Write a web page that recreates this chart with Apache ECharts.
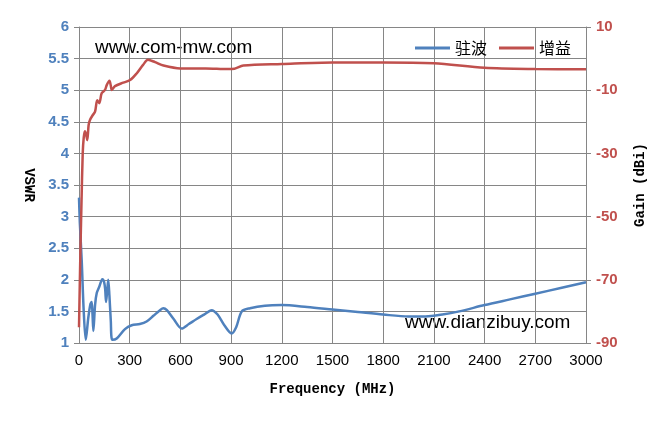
<!DOCTYPE html>
<html>
<head>
<meta charset="utf-8">
<script src="https://cdn.jsdelivr.net/npm/echarts@6/dist/echarts.min.js"></script>
<style>html,body{margin:0;padding:0;background:#fff}#c{width:662px;height:427px}</style>
</head>
<body>
<div id="c"></div>
<script>
var freqVswr = [0,5,16,28,40,55,68,75,80,85,95,105,120,138,148,155,160,166,173,180,188,197,223,272,312,360,400,440,479,499,520,560,608,650,696,740,785,820,860,903,930,963,1012,1100,1200,1350,1500,1650,1800,1950,2050,2150,2250,2400,2550,2700,2850,3000];
var vswr = [3.3,2.9,2.31,1.5,1.05,1.4,1.62,1.65,1.45,1.19,1.6,1.79,1.89,2.01,1.97,1.85,1.65,1.8,2.0,1.75,1.36,1.05,1.07,1.22,1.28,1.3,1.34,1.43,1.52,1.55,1.52,1.38,1.23,1.3,1.38,1.45,1.52,1.45,1.28,1.15,1.25,1.5,1.55,1.59,1.6,1.57,1.53,1.49,1.45,1.42,1.42,1.45,1.5,1.6,1.69,1.78,1.87,1.96];
var freqGain = [0,8,15,22,28,35,42,49,57,65,80,95,108,120,134,154,164,180,188,194,213,262,302,341,379,408,450,500,600,750,880,920,972,1200,1500,1800,2100,2400,2700,3000];
var gain = [-85,-62,-45,-30,-25,-23,-24,-25.8,-21,-19.4,-18,-16.8,-13.2,-14.1,-11,-9.9,-8.4,-7.0,-8.5,-9.9,-8.7,-7.6,-6.8,-4.7,-2.0,-0.4,-1.1,-2.2,-3.1,-3.1,-3.3,-3.2,-2.2,-1.7,-1.2,-1.2,-1.5,-2.9,-3.3,-3.4];
var gainTicks = [-90,-70,-50,-30,-10,10];
var seriesNames = ['驻波','增益'];
var watermarks = ['www.com-mw.com','www.dianzibuy.com'];

function pairs(xs, ys){ return xs.map(function(x,i){return [x, ys[i]];}); }

var chart = echarts.init(document.getElementById('c'));
var gridColor = '#868686';
var nameStyle = {fontFamily: 'Liberation Mono', fontSize: 14, fontWeight: 'bold', color: '#000'};
chart.setOption({
  animation: false,
  backgroundColor: '#fff',
  grid: {left: 79, right: 76, top: 27, bottom: 84},
  legend: {
    data: seriesNames,
    right: 86, top: 35,
    icon: 'rect', itemWidth: 35, itemHeight: 3, itemGap: 12,
    textStyle: {fontFamily: 'Noto Sans CJK SC', fontSize: 16, color: '#000'}
  },
  xAxis: {
    type: 'value', min: 0, max: 3000, interval: 300,
    name: 'Frequency (MHz)', nameLocation: 'middle', nameGap: 39,
    nameTextStyle: nameStyle,
    axisLine: {lineStyle: {color: gridColor}},
    axisTick: {show: false},
    axisLabel: {fontFamily: 'Liberation Sans', fontSize: 15, color: '#000', margin: 10,
      formatter: function(v){ return String(v); }},
    splitLine: {show: true, lineStyle: {color: gridColor, width: 1}}
  },
  yAxis: [{
    type: 'value', min: 1, max: 6, interval: 0.5,
    name: 'VSWR', nameLocation: 'middle', nameGap: 43, nameRotate: -90,
    nameTextStyle: nameStyle,
    axisLine: {show: true, lineStyle: {color: gridColor}},
    axisTick: {show: true, length: 5, lineStyle: {color: gridColor}},
    axisLabel: {fontFamily: 'Liberation Sans', fontSize: 15, fontWeight: 'bold', color: '#4F81BD', margin: 10},
    splitLine: {show: true, lineStyle: {color: gridColor, width: 1}}
  }, {
    type: 'value', min: -90, max: 10, position: 'right',
    name: 'Gain (dBi)', nameLocation: 'middle', nameGap: 47, nameRotate: 90,
    nameTextStyle: nameStyle,
    axisLine: {show: true, lineStyle: {color: gridColor}},
    axisTick: {show: true, length: 5, customValues: gainTicks, lineStyle: {color: gridColor}},
    axisLabel: {fontFamily: 'Liberation Sans', fontSize: 15, fontWeight: 'bold', color: '#C0504D', margin: 10, customValues: gainTicks},
    splitLine: {show: false}
  }],
  graphic: [
    {type: 'text', left: 95, top: 38, style: {text: watermarks[0], font: '19px "Liberation Sans"', fill: '#000'}},
    {type: 'text', left: 405, top: 313, style: {text: watermarks[1], font: '19px "Liberation Sans"', fill: '#000'}}
  ],
  series: [{
    name: seriesNames[0], type: 'line', yAxisIndex: 0,
    data: pairs(freqVswr, vswr), showSymbol: false, smooth: 0.3,
    lineStyle: {color: '#4F81BD', width: 2.5}, itemStyle: {color: '#4F81BD'}
  }, {
    name: seriesNames[1], type: 'line', yAxisIndex: 1,
    data: pairs(freqGain, gain), showSymbol: false, smooth: 0.3,
    lineStyle: {color: '#C0504D', width: 2.5}, itemStyle: {color: '#C0504D'}
  }]
});
</script>
</body>
</html>
